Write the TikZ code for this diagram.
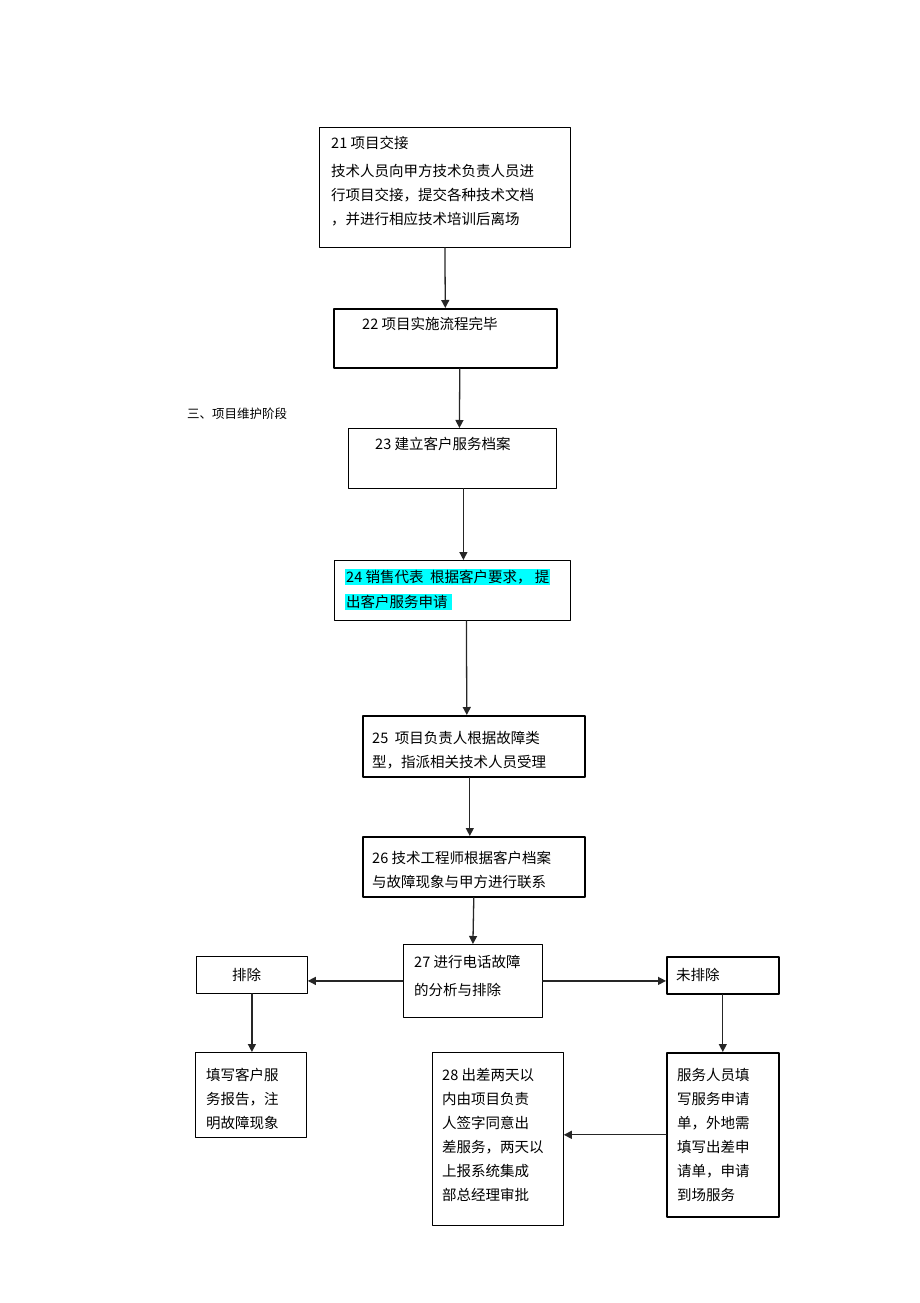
\documentclass[tikz,border=0pt]{standalone}
\usepackage{fontspec}
\setmainfont{Noto Sans CJK SC}
\usetikzlibrary{arrows.meta}
\definecolor{hlcol}{RGB}{0,255,255}
\newcommand{\hlcyan}[1]{\colorbox{hlcol}{#1}}

\begin{document}
\begin{tikzpicture}[line cap=round,line join=round,>={Triangle[length=8pt,width=8pt]},x=1pt,y=-1pt,
  box/.style={draw,line width=0.8pt,inner sep=0pt,anchor=north west},
  boxb/.style={box,line width=1.6pt},
  txt/.style={anchor=north west,inner sep=0pt,align=left,font=\fontsize{14.5}{24}\selectfont},
  arr/.style={->,line width=1.3pt,draw=black!85}]
\useasboundingbox (0,0) rectangle (920,1303);
\node[box,minimum width=251pt,minimum height=120pt] (b21) at (319,127) {};
\node[boxb,minimum width=223pt,minimum height=59pt] (b22) at (333,308) {};
\node[box,minimum width=208pt,minimum height=60pt] (b23) at (348,428) {};
\node[box,minimum width=236pt,minimum height=60pt] (b24) at (334,560) {};
\node[boxb,minimum width=222pt,minimum height=61pt] (b25) at (362,715) {};
\node[boxb,minimum width=222pt,minimum height=60pt] (b26) at (362,836) {};
\node[box,minimum width=139pt,minimum height=73pt] (b27) at (403,944) {};
\node[box,minimum width=111pt,minimum height=37pt] (bpc) at (196,956) {};
\node[boxb,minimum width=112pt,minimum height=37pt] (bwpc) at (666,956) {};
\node[box,minimum width=111pt,minimum height=85pt] (btx) at (195,1052) {};
\node[box,minimum width=131pt,minimum height=173pt] (b28) at (432,1052) {};
\node[boxb,minimum width=112pt,minimum height=164pt] (bfw) at (666,1052) {};
\node[txt] (t21) at (331,136) {21 项目交接\\[4pt]技术人员向甲方技术负责人员进\\行项目交接，提交各种技术文档\\，并进行相应技术培训后离场};
\node[txt] (t22) at (362,317) {22 项目实施流程完毕};
\node[txt,font=\fontsize{12.5}{15}\selectfont] (phase) at (187,408) {三、项目维护阶段};
\node[txt] (t23) at (375,437) {23 建立客户服务档案};
\node[txt,font=\fontsize{14.5}{25}\selectfont\setlength{\fboxsep}{1pt}] (t24) at (345,569) {\hlcyan{24 销售代表\ \ 根据客户要求，\ 提}\\\hlcyan{出客户服务申请\ }};
\node[txt] (t25) at (372,731) {25\ \ 项目负责人根据故障类\\型，指派相关技术人员受理};
\node[txt] (t26) at (372,851) {26 技术工程师根据客户档案\\与故障现象与甲方进行联系};
\node[txt] (t27) at (414,955) {27 进行电话故障\\[4pt]的分析与排除};
\node[txt] (tpc) at (232,968) {排除};
\node[txt] (twpc) at (676,968) {未排除};
\node[txt] (ttx) at (206,1068) {填写客户服\\务报告，注\\明故障现象};
\node[txt] (t28) at (442,1068) {28\ 出差两天以\\内由项目负责\\人签字同意出\\差服务，两天以\\上报系统集成\\部总经理审批};
\node[txt] (tfw) at (677,1068) {服务人员填\\写服务申请\\单，外地需\\填写出差申\\请单，申请\\到场服务};
\draw[arr] (b21.south) -- (b22.north);
\draw[arr] ([xshift=14.5pt]b22.south) -- ([xshift=7pt]b23.north);
\draw[arr] ([xshift=11pt]b23.south) -- ([xshift=11pt]b24.north);
\draw[arr] ([xshift=14pt]b24.south) -- ([xshift=-7pt]b25.north);
\draw[arr] ([xshift=-4pt]b25.south) -- ([xshift=-4pt]b26.north);
\draw[arr] (b26.south) -- (b27.north);
\draw[arr] (b27.west) -- (b27.west -| bpc.east);
\draw[arr] (b27.east) -- (b27.east -| bwpc.west);
\draw[arr] (bpc.south) -- (bpc.south |- btx.north);
\draw[arr] (bwpc.south) -- (bfw.north);
\draw[arr] (bfw.west) -- (bfw.west -| b28.east);
\end{tikzpicture}
\end{document}
